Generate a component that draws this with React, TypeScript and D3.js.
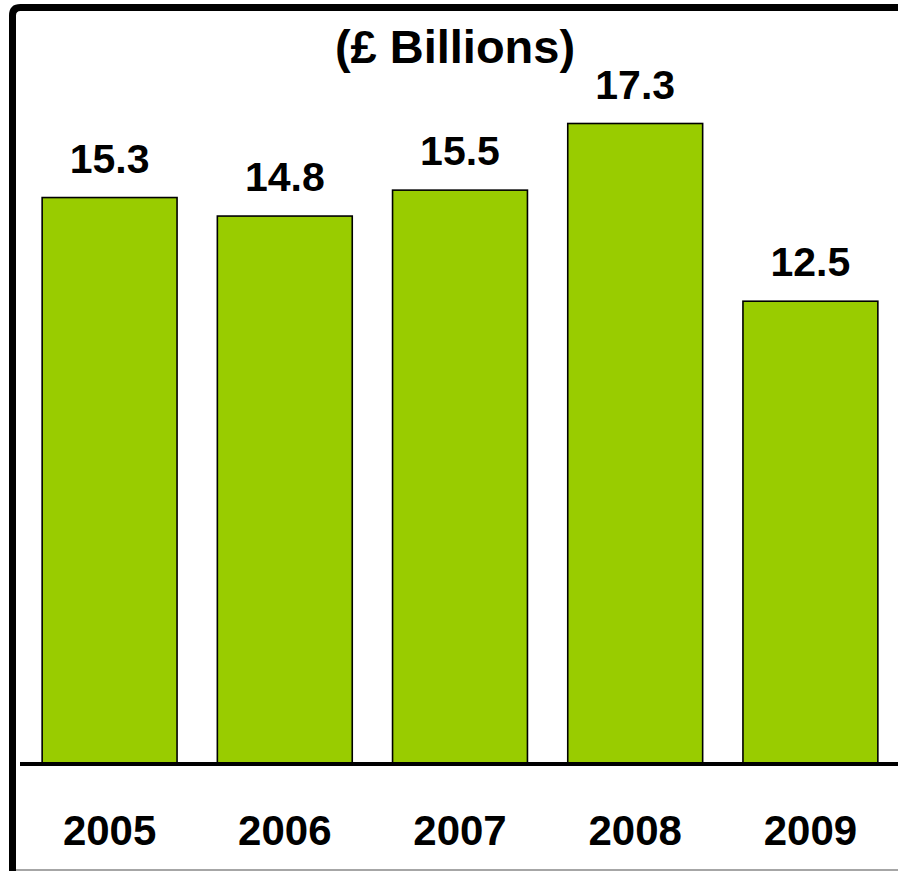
import React from "react";
import * as d3 from "d3";

const years = ["2005", "2006", "2007", "2008", "2009"];
const values = [15.3, 14.8, 15.5, 17.3, 12.5];
const title = "(£ Billions)";

const W = 898;
const H = 871;

export default function App() {
  const x = d3
    .scaleBand<string>()
    .domain(years)
    .range([22, 898])
    .paddingInner(0.23)
    .paddingOuter(0.115);
  const baseY = 764;
  const y = d3.scaleLinear().domain([0, 17.3]).range([baseY, 123.5]);
  const font = "'Liberation Sans', Arial, Helvetica, sans-serif";
  const r = 8;
  return (
    <svg
      width={W}
      height={H}
      style={{ position: "absolute", left: 0, top: 0, background: "#fff" }}
    >
      <rect x={0} y={0} width={W} height={H} fill="#fff" />
      {years.map((yr, i) => (
        <rect
          key={yr}
          x={x(yr)}
          y={y(values[i])}
          width={x.bandwidth()}
          height={baseY - y(values[i])}
          fill="#99CC00"
          stroke="#000"
          strokeWidth={1.6}
        />
      ))}
      <line x1={20} x2={W} y1={baseY} y2={baseY} stroke="#000" strokeWidth={4} />
      {years.map((yr, i) => (
        <text
          key={"v" + yr}
          x={(x(yr) as number) + x.bandwidth() / 2}
          y={y(values[i]) - 25}
          textAnchor="middle"
          fontFamily={font}
          fontWeight="bold"
          fontSize={41}
          fill="#000"
        >
          {values[i].toFixed(1)}
        </text>
      ))}
      {years.map((yr) => (
        <text
          key={"y" + yr}
          x={(x(yr) as number) + x.bandwidth() / 2}
          y={845}
          textAnchor="middle"
          fontFamily={font}
          fontWeight="bold"
          fontSize={42}
          fill="#000"
        >
          {yr}
        </text>
      ))}
      <text
        x={455}
        y={63}
        textAnchor="middle"
        fontFamily={font}
        fontWeight="bold"
        fontSize={47}
        fill="#000"
      >
        {title}
      </text>
      <path
        d={`M12.5,${H} L12.5,${7.5 + r} Q12.5,7.5 ${12.5 + r},7.5 L${W},7.5`}
        fill="none"
        stroke="#000"
        strokeWidth={7}
      />
      <line x1={16} x2={W} y1={870} y2={870} stroke="#888" strokeWidth={1.5} />
    </svg>
  );
}
